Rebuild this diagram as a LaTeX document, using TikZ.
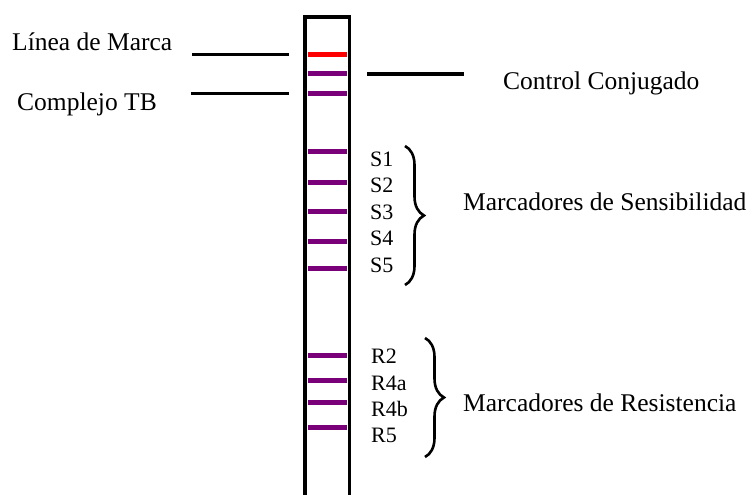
\documentclass[tikz,border=0pt]{standalone}
\usepackage{fontspec}
\setmainfont{Liberation Serif}
\usetikzlibrary{decorations.pathreplacing}
\definecolor{bandpurple}{RGB}{122,0,122}
\definecolor{bandred}{RGB}{255,0,0}
\tikzset{
  strip/.style={line width=3.3pt, line join=miter},
  band/.style={line width=5pt, bandpurple},
  redband/.style={line width=5pt, bandred},
  leader/.style={line width=3.3pt},
  biglabel/.style={anchor=base west, inner sep=0pt, font=\fontsize{25.5}{30}\selectfont},
  smalllabel/.style={anchor=base west, inner sep=0pt, font=\fontsize{22}{26}\selectfont},
  curly/.style={line width=2.6pt, decorate, decoration={brace, amplitude=19pt}},
}
\begin{document}
\begin{tikzpicture}[x=1pt, y=-1pt]
\useasboundingbox (0,0) rectangle (753,495);
% strip
\draw[strip] (305,497) -- (305,17) -- (349.5,17) -- (349.5,497);
% top bands
\draw[redband] (308,54.5) -- (347,54.5);
\draw[band] (308,74) -- (347,74);
\draw[band] (308,93.3) -- (347,93.3);
% sensitivity bands
\foreach \y in {151.7,182.3,211,241,268.3} \draw[band] (308,\y) -- (347,\y);
% resistance bands
\foreach \y in {355.7,380.7,402.3,427.3} \draw[band] (308,\y) -- (347,\y);
% leader lines
\coordinate (l1a) at (192,54.7); \coordinate (l1b) at (289,54.7);
\coordinate (l2a) at (191,93.5); \coordinate (l2b) at (289,93.5);
\coordinate (r1a) at (367,74); \coordinate (r1b) at (464,74);
\draw[leader] (l1a) -- (l1b);
\draw[leader] (l2a) -- (l2b);
\draw[leader] (r1a) -- (r1b);
% labels
\node[biglabel] (linea) at (12,51) {Línea de Marca};
\node[biglabel] (complejo) at (17,110.7) {Complejo TB};
\node[biglabel] (control) at (503,89) {Control Conjugado};
\node[biglabel] (sens) at (463,210) {Marcadores de Sensibilidad};
\node[biglabel] (resis) at (463,411.7) {Marcadores de Resistencia};
\node[smalllabel] (s1) at (370,166) {S1};
\node[smalllabel] (s2) at (370,192.5) {S2};
\node[smalllabel] (s3) at (370,219) {S3};
\node[smalllabel] (s4) at (370,245.5) {S4};
\node[smalllabel] (s5) at (370,272) {S5};
\node[smalllabel] (r2) at (371,363) {R2};
\node[smalllabel] (r4a) at (371,390) {R4a};
\node[smalllabel] (r4b) at (371,416.7) {R4b};
\node[smalllabel] (r5) at (371,442.7) {R5};
% braces
\coordinate (sb1) at (405,146); \coordinate (sb2) at (405,285);
\coordinate (rb1) at (425,338); \coordinate (rb2) at (425,457);
\draw[curly] (sb1) -- (sb2);
\draw[curly] (rb1) -- (rb2);
\end{tikzpicture}
\end{document}
